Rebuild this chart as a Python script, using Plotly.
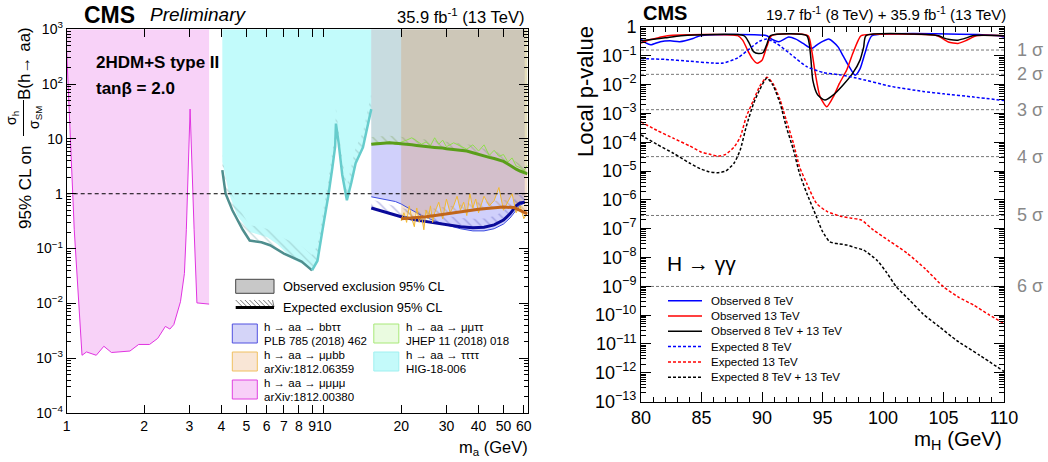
import numpy as np
import plotly.graph_objects as go

W, H = 1048, 462
def px(x): return x / W
def py(y): return 1 - y / H

FONT = "Liberation Sans, Arial, Helvetica, sans-serif"

# ================= Left panel data: 95% CL limits on sigma_h/sigma_SM B(h->aa) =================
# h -> aa -> mumumumu (observed)
mmmm_x = [1.0, 1.07, 1.147, 1.194, 1.303, 1.395, 1.493, 1.762, 1.905, 2.10, 2.26, 2.42, 2.52, 2.61,
          2.77, 2.87, 2.92, 3.02, 3.13, 3.21, 3.58]
mmmm_y = [400, 0.22, 1.13e-3, 1.3e-3, 1.13e-3, 1.65e-3, 1.27e-3, 1.35e-3, 1.78e-3, 1.78e-3, 2.3e-3,
          3.8e-3, 3.4e-3, 4.1e-3, 0.0107, 0.035, 0.22, 35, 0.22, 0.0102, 0.0097]

# h -> aa -> tautautautau
t4_obs_x = [4.03, 4.28, 4.6, 5.15, 6.0, 6.6, 7.5, 8.4, 9.0, 9.45, 10.0, 10.4, 10.8, 11.07, 11.15,
            11.4, 11.8, 12.3, 12.8, 13.3, 14.2, 15.3]
t4_obs_y = [3.8, 1.0, 0.4, 0.2, 0.163, 0.12, 0.066, 0.05, 0.040, 0.06, 0.3, 0.88, 3.0, 7.2, 19,
            9, 2.2, 0.76, 1.6, 3.6, 7, 35]
t4_exp_x = [4.03, 4.15, 4.41, 4.84, 5.15, 5.72, 6.18, 7.0, 8.2, 9.0]
t4_exp_y = [2.7, 1.0, 0.5, 0.22, 0.14, 0.13, 0.115, 0.081, 0.058, 0.040]

# h -> aa -> bbtautau
bbtt_obs_x = [15.3, 17, 19, 20, 22, 24, 27, 30, 34, 38, 42, 46, 50, 53, 56, 58, 60.5]
bbtt_obs_y = [0.88, 0.8, 0.72, 0.65, 0.5, 0.4, 0.32, 0.27, 0.23, 0.21, 0.21, 0.23, 0.28, 0.36, 0.5, 0.62, 0.68]
bbtt_exp_x = [15.3, 17, 20, 23, 26, 30, 34, 38, 42, 46, 50, 53, 56, 58, 60.5]
bbtt_exp_y = [0.55, 0.47, 0.38, 0.33, 0.30, 0.27, 0.25, 0.24, 0.245, 0.27, 0.33, 0.43, 0.6, 0.68, 0.7]

# h -> aa -> mumutautau
mmtt_x = [15.3, 16, 17, 18, 19, 20, 21, 22, 23, 24, 25, 26, 27, 28, 29, 30, 32, 34, 36, 38, 40,
          42, 44, 46, 48, 50, 52, 54, 56, 58, 60, 62]
mmtt_obs_y = [8.2, 8.5, 8.3, 8.8, 8.0, 8.6, 9.5, 10.5, 9.0, 8.0, 8.8, 7.5, 10.5, 8.0, 9.5, 7.2, 8.5,
              7.5, 6.5, 7.8, 6.0, 7.8, 5.0, 6.2, 4.8, 5.2, 3.8, 4.5, 3.2, 3.0, 2.6, 3.3]
mmtt_exp_y = [8.0, 8.2, 8.4, 8.5, 8.3, 8.2, 8.0, 7.8, 7.6, 7.5, 7.3, 7.1, 7.0, 7.0, 6.8, 6.6, 6.4,
              6.2, 6.0, 5.6, 5.2, 4.9, 4.6, 4.4, 4.2, 3.9, 3.5, 3.1, 2.8, 2.6, 2.4, 2.3]

# h -> aa -> mumubb
mmbb_obs_x = [20, 20.5, 21, 21.5, 22, 22.5, 23, 23.5, 24, 24.5, 25, 25.5, 26, 26.5, 27, 28, 29, 30,
              31, 32, 33, 34, 35, 36, 37, 38, 39, 40, 42, 44, 46, 48, 50, 52, 54, 56, 58, 60, 62]
mmbb_obs_y = [0.32, 0.45, 0.3, 0.6, 0.35, 0.25, 0.55, 0.3, 0.4, 0.22, 0.5, 0.35, 0.6, 0.3, 0.45, 0.7,
              0.35, 0.8, 0.45, 0.6, 0.9, 0.5, 0.7, 0.4, 1.0, 0.55, 0.8, 0.45, 0.9, 0.6, 0.75, 1.3,
              0.5, 0.7, 1.0, 0.45, 0.6, 0.35, 0.45]
mmbb_exp_x = [20, 22, 25, 28, 31, 35, 40, 45, 50, 55, 58, 62]
mmbb_exp_y = [0.35, 0.36, 0.38, 0.41, 0.44, 0.48, 0.52, 0.55, 0.57, 0.56, 0.5, 0.43]

left_xticks = [1, 2, 3, 4, 5, 6, 7, 8, 9, 10, 20, 30, 40, 50, 60]
left_yticks = [1e3, 1e2, 10, 1, 1e-1, 1e-2, 1e-3, 1e-4]
left_ylabels = ["10<sup>3</sup>", "10<sup>2</sup>", "10", "1", "10<sup>−1</sup>",
                "10<sup>−2</sup>", "10<sup>−3</sup>", "10<sup>−4</sup>"]

# ================= Right panel data: local p-values, H -> gamma gamma =================
obs8_x = [80, 80.4, 80.8, 81.6, 82.4, 83.2, 84.3, 84.9, 90.4, 90.8, 91.4, 92.2, 92.8, 93.4, 94.1,
          94.6, 95.1, 95.5, 95.9, 96.3, 96.7, 97.1, 97.7, 98.1, 98.5, 98.8, 99.1, 109.6, 110]
obs8_y = [0.37, 0.28, 0.24, 0.31, 0.33, 0.31, 0.40, 0.5, 0.5, 0.38, 0.31, 0.45, 0.38, 0.27, 0.18,
          0.25, 0.33, 0.38, 0.3, 0.2, 0.1, 0.05, 0.021, 0.035, 0.12, 0.3, 0.5, 0.5, 0.45]
obs13_x = [80, 80.7, 81.5, 82.2, 88.0, 88.4, 88.8, 89.2, 89.6, 90.0, 90.4, 90.8, 93.8, 94.1, 94.4,
           94.8, 95.35, 95.9, 96.4, 97.0, 97.5, 97.96, 98.2, 104.5, 104.9, 105.4, 106.2, 106.8,
           107.3, 107.7, 110]
obs13_y = [0.28, 0.36, 0.43, 0.5, 0.5, 0.35, 0.16, 0.08, 0.055, 0.07, 0.21, 0.5, 0.5, 0.16, 0.025,
           3.8e-3, 1.7e-3, 3.8e-3, 0.011, 0.032, 0.12, 0.35, 0.5, 0.5, 0.4, 0.3, 0.27, 0.33, 0.42,
           0.5, 0.5]
obsc_x = [80, 80.7, 82, 83.3, 88.5, 88.9, 89.3, 89.7, 90.1, 90.4, 90.7, 93.7, 94.0, 94.2, 94.6,
          95.2, 95.9, 96.7, 97.5, 98.1, 98.4, 98.6, 104.6, 105.0, 105.5, 106.2, 106.9, 107.4, 110]
obsc_y = [0.33, 0.36, 0.42, 0.5, 0.5, 0.3, 0.14, 0.12, 0.13, 0.25, 0.5, 0.5, 0.12, 0.014, 4.4e-3,
          2.9e-3, 4.4e-3, 9.7e-3, 0.025, 0.071, 0.2, 0.5, 0.5, 0.42, 0.37, 0.35, 0.42, 0.5, 0.5]
exp8_x = [80, 82, 84, 86, 86.8, 88, 89, 89.8, 90.4, 91.2, 92.3, 93.7, 95.1, 96.4, 97.8, 100.6,
          103.3, 105, 107.5, 110]
exp8_y = [0.08, 0.075, 0.065, 0.056, 0.056, 0.085, 0.18, 0.32, 0.38, 0.27, 0.12, 0.042, 0.026,
          0.022, 0.017, 0.0088, 0.0058, 0.0048, 0.0037, 0.0028]
exp13_x = [80, 81.3, 82.7, 84.0, 84.9, 85.7, 86.4, 87.0, 87.7, 88.2, 88.7, 89.3, 89.8, 90.4, 90.9,
           91.5, 92.0, 92.6, 93.1, 93.7, 94.5, 95.4, 96.5, 97.4, 98.2, 99.2, 100.5, 102.0, 103.5,
           105.0, 106.2, 107.5, 108.8, 110]
exp13_y = [5.1e-4, 2.6e-4, 1.36e-4, 7.5e-5, 4.7e-5, 3.8e-5, 3.3e-5, 3.8e-5, 6.9e-5, 1.5e-4, 7.7e-4,
           2.9e-3, 8.5e-3, 0.018, 0.011, 2.9e-3, 5.9e-4, 9.1e-5, 1.4e-5, 3.7e-6, 7.6e-7, 3.9e-7,
           2.7e-7, 2.3e-7, 2.0e-7, 9e-8, 3.8e-8, 1.4e-8, 4e-9, 9.6e-10, 4.3e-10, 2.2e-10, 1.0e-10,
           5.1e-11]
expc_x = [80, 81.3, 82.7, 84.0, 84.9, 85.6, 86.3, 87.0, 87.7, 88.2, 88.7, 89.3, 89.8, 90.4, 90.9,
          91.5, 92.0, 92.6, 93.1, 93.7, 94.5, 95.0, 95.6, 96.3, 97.0, 97.7, 98.4, 99.5, 100.3,
          101.1, 102.2, 103.3, 104.7, 106.1, 108.0, 110]
expc_y = [1.8e-4, 8.5e-5, 4.1e-5, 1.9e-5, 1.2e-5, 9.5e-6, 8.7e-6, 1.0e-5, 1.9e-5, 5.4e-5, 3.5e-4,
          2.2e-3, 6.5e-3, 0.017, 9.6e-3, 2.2e-3, 3.5e-4, 5.4e-5, 8.3e-6, 1.7e-6, 2.6e-7, 8e-8,
          3.5e-8, 3.0e-8, 2.7e-8, 2.2e-8, 1.8e-8, 8e-9, 3e-9, 9.6e-10, 3.3e-10, 1.1e-10, 3.8e-11,
          1.3e-11, 4e-12, 1.1e-12]

sigma_labels = ["1 σ", "2 σ", "3 σ", "4 σ", "5 σ", "6 σ"]
sigma_p = [0.158655, 0.0227501, 0.0013499, 3.16712e-5, 2.86652e-7, 9.86588e-10]

right_xticks = [80, 85, 90, 95, 100, 105, 110]
right_yticks = [10.0 ** k for k in range(0, -14, -1)]
right_ylabels = ["1"] + ["10<sup>−%d</sup>" % k for k in range(1, 14)]

right_legend = [
    ("Observed 8 TeV", "#0000ff", "solid"),
    ("Observed 13 TeV", "#ff0000", "solid"),
    ("Observed 8 TeV + 13 TeV", "#000000", "solid"),
    ("Expected 8 TeV", "#0000ff", "3px,2px"),
    ("Expected 13 TeV", "#ff0000", "3px,2px"),
    ("Expected 8 TeV + 13 TeV", "#000000", "3px,2px"),
]

# ================= figure =================
fig = go.Figure()
TOP = 1000.0

def add(x, y, xa="x", ya="y", **kw):
    fig.add_trace(go.Scatter(x=list(x), y=list(y), xaxis=xa, yaxis=ya, mode="lines",
                             hoverinfo="skip", showlegend=False, **kw))

def fill_above(xs, ys, color):
    add(list(xs) + [xs[-1], xs[0]], list(ys) + [TOP, TOP], fill="toself",
        fillcolor=color, line=dict(width=0))

def hatch(xs, ys, factor, color):
    xs = list(xs); ys = list(ys)
    add(xs + xs[::-1], ys + [v * factor for v in ys[::-1]], fill="toself",
        fillcolor="rgba(0,0,0,0)", line=dict(width=0),
        fillpattern=dict(shape="\\", fgcolor=color, bgcolor="rgba(0,0,0,0)", size=7, solidity=0.18))

# fills
fill_above(mmmm_x, mmmm_y, "#f8d2f8")
fill_above(t4_obs_x, t4_obs_y, "#c2fbfb")
fill_above(bbtt_obs_x, bbtt_obs_y, "rgba(60,60,240,0.24)")
fill_above(mmtt_x, mmtt_obs_y, "rgba(181,248,161,0.30)")
fill_above(mmbb_obs_x, mmbb_obs_y, "rgba(217,153,94,0.30)")

# hatched expected bands
hatch(t4_exp_x, t4_exp_y, 1.9, "#8ab8b8")
hatch(t4_obs_x[8:], t4_obs_y[8:], 1.9, "#8ab8b8")
hatch(mmtt_x, mmtt_exp_y, 1.35, "#86a86a")
hatch(bbtt_exp_x, bbtt_exp_y, 1.45, "#6a6ac8")
hatch(mmbb_exp_x, mmbb_exp_y, 1.35, "#b89060")

# lines
add(mmmm_x, mmmm_y, line=dict(color="#e033e0", width=1))
add(t4_exp_x, t4_exp_y, line=dict(color="#4f8e8e", width=2.5))
add(t4_obs_x[8:], t4_obs_y[8:], line=dict(color="#66cccc", width=2.5))
add(mmtt_x, mmtt_obs_y, line=dict(color="#8fe04a", width=1))
add(mmtt_x, mmtt_exp_y, line=dict(color="#5a9e1a", width=3))
add(bbtt_obs_x, bbtt_obs_y, line=dict(color="#3a4ae0", width=1))
add(bbtt_exp_x, bbtt_exp_y, line=dict(color="#0a0a9a", width=3))
add(mmbb_obs_x, mmbb_obs_y, line=dict(color="#f2b830", width=1))
add(mmbb_exp_x, mmbb_exp_y, line=dict(color="#c0651a", width=3))
add([1, 62], [1, 1], line=dict(color="black", width=1, dash="4px,3px"))

# right panel
for p in sigma_p:
    add([80, 110], [p, p], xa="x2", ya="y2", line=dict(color="#777777", width=1, dash="3px,2px"))
series_r = [(obs8_x, obs8_y), (obs13_x, obs13_y), (obsc_x, obsc_y),
            (exp8_x, exp8_y), (exp13_x, exp13_y), (expc_x, expc_y)]
for (xs, ys), (name, col, dash) in zip(series_r, right_legend):
    add(xs, ys, xa="x2", ya="y2", name=name,
        line=dict(color=col, width=1.5, dash=dash, shape="spline", smoothing=0.6))

# ================= axes =================
axcommon = dict(showline=True, linecolor="black", linewidth=1, mirror="allticks", ticks="inside",
                tickcolor="black", showgrid=False, zeroline=False, automargin=False, tickangle=0)
minor_left_y = [k * 10.0 ** d for d in range(-4, 3) for k in range(2, 10)]
minor_right_y = [k * 10.0 ** d for d in range(-13, 0) for k in range(2, 10)]
f14 = dict(family=FONT, size=14, color="black")
f18 = dict(family=FONT, size=18, color="black")

fig.update_layout(
    width=W, height=H, margin=dict(l=0, r=0, t=0, b=0, autoexpand=False), autosize=False,
    paper_bgcolor="white", plot_bgcolor="white", showlegend=False,
    xaxis=dict(type="log", range=[0, float(np.log10(62))], domain=[px(66.7), px(527.5)], anchor="y",
               tickvals=left_xticks, ticktext=[str(v) for v in left_xticks], ticklen=8,
               tickfont=f14, **axcommon),
    yaxis=dict(type="log", range=[-4, 3], domain=[py(413), py(29.3)], anchor="x",
               tickvals=left_yticks, ticktext=left_ylabels, ticklen=9, tickfont=f14,
               minor=dict(tickvals=minor_left_y, ticklen=4, ticks="inside", tickcolor="black"),
               **axcommon),
    xaxis2=dict(range=[80, 110], domain=[px(641), px(1004)], anchor="y2",
                tickvals=right_xticks, ticktext=[str(v) for v in right_xticks], ticklen=10,
                minor=dict(dtick=1, ticklen=5, ticks="inside", tickcolor="black"),
                tickfont=f18, **axcommon),
    yaxis2=dict(type="log", range=[-13, 0], domain=[py(401.5), py(27)], anchor="x2",
                tickvals=right_yticks, ticktext=right_ylabels, ticklen=10, tickfont=f18,
                minor=dict(tickvals=minor_right_y, ticklen=5, ticks="inside", tickcolor="black"),
                **axcommon),
)

ann = []
def text(x, y, s, size, xanchor="left", yanchor="middle", color="black", angle=0):
    ann.append(dict(x=px(x), y=py(y), xref="paper", yref="paper", text=s, showarrow=False,
                    xanchor=xanchor, yanchor=yanchor, textangle=angle,
                    font=dict(family=FONT, size=size, color=color)))

# left panel texts
text(82, 15, "<b>CMS</b>", 23)
text(148, 15, "<i>Preliminary</i>", 19)
text(526, 16, "35.9 fb<sup>-1</sup> (13 TeV)", 16.5, xanchor="right")
text(94, 63, "<b>2HDM+S type II</b>", 17)
text(94, 88, "<b>tanβ = 2.0</b>", 17)
text(530, 448, "m<sub>a</sub> (GeV)", 16.5, xanchor="right")
text(25, 188, "95% CL on", 17, xanchor="center", angle=-90)
text(12, 118, "σ<sub>h</sub>", 14, xanchor="center", angle=-90)
text(35, 118, "σ<sub>SM</sub>", 14, xanchor="center", angle=-90)
text(25, 64, "B(h→ aa)", 17, xanchor="center", angle=-90)

# left legend
text(281, 286, "Observed exclusion 95% CL", 12.8)
text(281, 307, "Expected exclusion 95% CL", 12.8)
leg_items = [
    (232.3, 324, "#d4d4f8", "#5050e0", "h → aa → bbττ", "PLB 785 (2018) 462"),
    (232.3, 352, "#f9e6d6", "#f0c060", "h → aa → μμbb", "arXiv:1812.06359"),
    (232.3, 380, "#f8d0f8", "#e040e0", "h → aa → μμμμ", "arXiv:1812.00380"),
    (373.8, 324, "#eafbe0", "#a8e878", "h → aa → μμττ", "JHEP 11 (2018) 018"),
    (373.8, 352, "#c4fafa", "#a0f0f0", "h → aa → ττττ", "HIG-18-006"),
]
shapes = []
def rect(x0, y0, x1, y1, fill, line, lw=1):
    shapes.append(dict(type="rect", xref="paper", yref="paper", x0=px(x0), x1=px(x1),
                       y0=py(y1), y1=py(y0), fillcolor=fill, line=dict(color=line, width=lw)))
def seg(x0, y0, x1, y1, color, width, dash="solid"):
    shapes.append(dict(type="line", xref="paper", yref="paper", x0=px(x0), x1=px(x1),
                       y0=py(y0), y1=py(y1), line=dict(color=color, width=width, dash=dash)))

rect(235.7, 279.3, 274, 293.3, "#c8c8c8", "#444444")
for i in range(9):
    xa = 235.7 + i * 4.6
    seg(xa, 300, min(xa + 7, 274), 307, "#555555", 0.8)
seg(235.7, 307.5, 274, 307.5, "black", 3)
for (x0, y0, fc, lc, l1, l2) in leg_items:
    rect(x0, y0, x0 + 25, y0 + 19, fc, lc)
    text(x0 + 30, y0 + 3, l1, 11.5)
    text(x0 + 30, y0 + 16.5, l2, 11.5)

# left y-title fraction bar
seg(23.5, 100, 23.5, 136, "black", 1)

# right panel texts
text(641, 13, "<b>CMS</b>", 20)
text(1008, 14, "19.7 fb<sup>-1</sup> (8 TeV) + 35.9 fb<sup>-1</sup> (13 TeV)", 15, xanchor="right")
text(585, 92, "Local p-value", 22, xanchor="center", angle=-90)
text(1004, 440, "m<sub>H</sub> (GeV)", 20.5, xanchor="right")
text(665, 263, "H → γγ", 21)
for lab, p in zip(sigma_labels, sigma_p):
    ann.append(dict(x=px(1015), y=float(np.log10(p)), xref="paper", yref="y2", text=lab,
                    showarrow=False, xanchor="left", yanchor="middle",
                    font=dict(family=FONT, size=18, color="#888888")))

# right legend
for i, (name, col, dash) in enumerate(right_legend):
    yy = 300.7 + i * 15.3
    seg(668, yy, 702, yy, col, 1.5, dash)
    text(709, yy, name, 11.5)

fig.update_layout(annotations=ann, shapes=shapes)
fig.write_html("out.html", config={"displayModeBar": False},
               post_script="document.body.style.margin='0px';document.body.style.overflow='hidden';")
